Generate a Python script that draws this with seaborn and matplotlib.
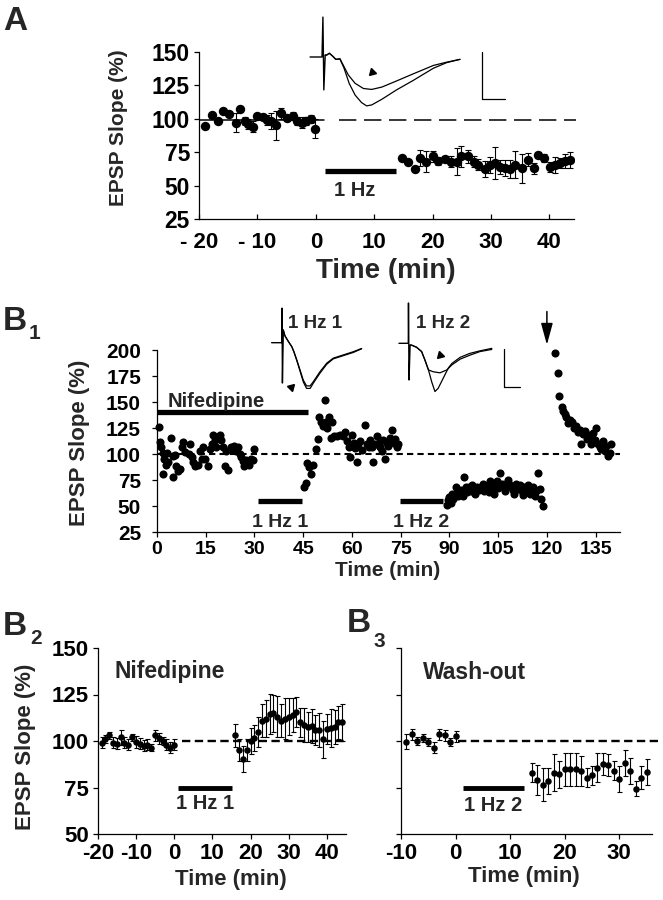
import numpy as np
import pandas as pd
import matplotlib
matplotlib.use('Agg')
import matplotlib.pyplot as plt
import seaborn as sns

# ---------------- DATA ----------------
# Panel A (EPSP slope %, mean +/- sem)
a_base_t = [-18.9, -17.8, -16.8, -15.9, -14.8, -13.7, -13.0, -12.1, -11.6, -10.8, -10.0, -9.1,
            -8.4, -7.7, -6.9, -5.9, -4.9, -3.9, -3.3, -2.4, -1.6, -0.8, -0.1]
a_base_v = [94.8, 103, 98.5, 105.5, 103.7, 97, 107.5, 98, 96, 94, 102, 101.5,
            99, 98, 95, 104, 100.5, 102, 98, 97, 98, 99.5, 92.5]
a_base_e = [0, 0, 0, 0, 0, 7, 0, 3, 4, 4, 2, 2, 4, 6, 11, 4, 2, 3, 3, 4, 3, 3, 7]
a_post_t = [14.8, 15.8, 17.0, 17.9, 18.9, 20.1, 21.0, 22.2, 23.2, 24.2, 24.9, 26.0, 27.0, 27.8,
            29.0, 29.8, 30.7, 31.5, 32.4, 33.3, 34.1, 35.3, 36.3, 37.3, 38.1, 39.0, 40.1, 41.0,
            41.8, 42.7, 43.5]
a_post_v = [71, 68, 62.5, 70.6, 68, 72, 68.6, 70, 68, 68, 72, 72, 68, 65.6,
            62.5, 65.6, 67, 64, 63, 62.5, 65.6, 63, 69.5, 63, 73, 70.5, 64, 65.6,
            67, 68.5, 69]
a_post_e = [0, 0, 0, 6, 8, 4, 3, 2, 4, 10, 8, 5, 4, 4,
            6, 6, 12, 5, 6, 7, 10, 11, 5, 4, 2, 3, 4, 6,
            4, 5, 6]
a_stim_t = [1.5, 13.7]
a_stim_level = 61
a_ref_level = 99
a_ref_solid_t = [-20, 1.4]
a_ref_dash_t = [4, 44.5]
a_xticks = [-20, -10, 0, 10, 20, 30, 40]
a_xticklabels = ['- 20', '- 10', '0', '10', '20', '30', '40']
a_yticks = [25, 50, 75, 100, 125, 150]

# Panel A inset traces (ms, mV)
a_stim_trace_t = [-2.6, 0.0, 0.2, 0.4, 0.7]
a_stim_trace_v = [0.0, 0.0, 0.85, -0.70, 0.04]
a_tr1_t = [0.7, 1.0, 1.6, 2.3, 3.0, 3.9, 4.6, 5.7, 7.2, 9.0, 10.8, 13.0, 16.2, 19.8, 24.2, 27.1, 30.0]
a_tr1_v = [0.04, 0.04, 0.08, 0.02, -0.05, -0.04, -0.17, -0.38, -0.56, -0.67, -0.69, -0.64, -0.51,
           -0.36, -0.18, -0.11, -0.05]
a_tr2_t = [0.7, 1.0, 1.6, 2.3, 3.0, 3.9, 4.8, 5.9, 7.2, 8.6, 9.7, 10.8, 13.0, 16.2, 19.8, 24.2, 27.1, 30.0]
a_tr2_v = [0.04, 0.04, 0.08, 0.02, -0.05, -0.04, -0.24, -0.56, -0.81, -0.97, -1.04, -1.02, -0.90,
           -0.70, -0.50, -0.24, -0.12, -0.05]
a_arrow_tv = [10.9, -0.32]
a_scale_t = [34.8, 34.8, 39.8]
a_scale_v = [0.11, -0.90, -0.90]

# Panel B1 (single experiment)
b1_t1 = [0.7, 0.9, 1.3, 1.8, 2.0, 2.2, 2.8, 3.0, 3.5, 4.4, 4.8, 5.0, 5.5, 6.0, 6.5, 7.0, 7.7, 8.0,
         8.7, 9.7, 10.2, 10.7, 11.2, 11.7, 12.7, 13.3, 13.8, 14.3, 14.8, 15.8, 16.3, 16.8, 17.3,
         17.8, 18.3, 19.3, 19.8, 20.3, 20.8, 21.3, 21.8, 22.8, 23.3, 23.8, 24.4, 24.9, 25.4, 25.9,
         26.4, 26.9, 27.4, 28.4, 28.9, 29.4, 29.9]
b1_v1 = [126, 112, 107, 101, 81, 95, 89, 101, 92, 115, 98, 78, 99, 88, 84, 86, 107, 112,
         102, 100, 110, 97, 92, 88, 89, 103, 95, 107, 95, 88, 105, 110, 118,
         113, 107, 118, 113, 107, 88, 103, 85, 107, 104, 108, 103, 107, 100, 97,
         93, 88, 94, 89, 95, 94, 105]
b1_t2 = [45.2, 45.9, 46.1, 46.9, 47.4, 47.9, 48.9, 49.4, 49.9, 50.4, 51.1, 51.6, 51.9, 52.4, 52.9,
         53.4, 53.9, 54.4, 55.4, 56.4, 57.4, 57.8, 58.5, 59.0, 59.4, 60.0, 60.5, 61.0, 61.5, 62.0,
         62.6, 63.1, 64.1, 64.6, 65.1, 65.6, 66.1, 66.6, 67.1, 67.6, 68.2, 68.7, 69.2, 69.7, 70.2,
         70.7, 71.2, 71.7, 72.2, 72.8, 73.3, 73.8, 74.3]
b1_v2 = [68.6, 72, 91, 87.5, 81, 89, 104.7, 114, 136, 131, 127, 152, 131, 125, 136,
         115.6, 131, 117, 117, 118.6, 117, 121, 112.5, 106.7, 97, 118.6, 110.9, 106, 92.3, 109.6,
         112.5, 104, 128, 109.6, 106.7, 113, 106.7, 92.3, 110, 117, 110.9, 106.7, 103, 113, 95,
         110.9, 108, 115, 123, 110.9, 114, 106.7, 110]
b1_t3 = [89.3, 89.6, 90.0, 90.4, 90.8, 91.2, 91.7, 92.0, 92.5, 93.0, 93.6, 94.1, 94.6, 95.0, 95.5,
         96.0, 96.5, 97.0, 97.5, 98.0, 98.5, 99.0, 99.7, 100.2, 100.6, 101.0, 101.6, 102.1, 102.6,
         103.1, 103.6, 104.0, 104.5, 105.0, 105.7, 106.2, 106.7, 107.2, 107.6, 108.0, 108.5, 109.0,
         109.5, 110.0, 110.6, 111.2, 111.7, 112.2, 112.6, 113.0, 113.6, 114.2, 114.8, 115.3, 115.8,
         116.3, 116.8, 117.3, 117.8, 118.3, 118.8]
b1_v3 = [51, 56, 59, 53, 62, 57, 62, 67.8, 60, 64, 65, 60, 78, 68, 63,
         67.8, 64, 70, 66, 62, 68, 65, 67.8, 71, 64, 66, 69, 63, 73.7,
         68, 62, 69, 74, 67, 81.7, 71, 67.8, 64, 72, 75, 70, 67.8,
         65, 62, 71, 66, 70.5, 64, 61, 67.8, 63, 70, 62, 66, 67.8,
         60, 64, 81.7, 66, 57, 50]
b1_t4 = [122.5, 123.5, 123.8, 124.5, 125.0, 125.5, 126.0, 126.5, 127.1, 127.6, 128.3, 129.0, 129.5,
         130.1, 130.6, 131.1, 131.6, 132.2, 132.7, 133.2, 133.7, 134.2, 134.7, 135.2, 135.7, 136.2,
         136.7, 137.3, 137.8, 138.3, 138.8, 139.3, 139.8]
b1_v4 = [197, 178, 156, 145, 141, 138, 136, 129.5, 133, 131, 125, 126.6, 121,
         123, 110, 119, 121.8, 114, 115.8, 118, 109.5, 120, 113, 125, 109.5, 107,
         104.7, 112.5, 103.2, 108, 98.4, 101, 109.5]
b1_nif_t = [0, 46.5]
b1_nif_level = 140.6
b1_hz1_t = [31, 44.6]
b1_hz2_t = [74.8, 88]
b1_hz_level = 54.5
b1_arrow_t = 120
b1_ref_t = [0, 142.5]
b1_xticks = [0, 15, 30, 45, 60, 75, 90, 105, 120, 135]
b1_yticks = [25, 50, 75, 100, 125, 150, 175, 200]

# Panel B1 inset traces (ms, mV)
b1i1_stim_t = [-2.8, 0.0, 0.1, 0.2, 0.45]
b1i1_stim_v = [0.0, 0.0, 0.96, -1.12, 0.35]
b1i1_tr1_t = [0.45, 0.9, 1.75, 2.8, 3.4, 4.2, 5.1, 6.0, 6.9, 7.9, 8.8, 10.6, 12.5, 14.3, 17.1, 19.9, 22.2]
b1i1_tr1_v = [0.35, 0.19, 0.05, -0.11, -0.25, -0.48, -0.76, -1.04, -1.20, -1.20, -1.08, -0.81,
              -0.57, -0.43, -0.34, -0.25, -0.16]
b1i1_tr2_t = [0.45, 0.9, 1.75, 2.8, 3.4, 4.2, 5.1, 6.0, 6.9, 7.9, 8.8, 10.6, 12.5, 14.3, 17.1, 19.9, 22.2]
b1i1_tr2_v = [0.35, 0.19, 0.05, -0.11, -0.26, -0.50, -0.79, -1.09, -1.27, -1.27, -1.12, -0.85,
              -0.60, -0.45, -0.36, -0.27, -0.17]
b1i1_arrow_tv = [2.6, -1.22]
b1i2_stim_t = [-2.6, 0.0, 0.05, 0.2, 0.5]
b1i2_stim_v = [0.0, 0.0, 1.12, -1.02, -0.05]
b1i2_tr1_t = [0.5, 0.9, 2.3, 3.7, 4.6, 5.6, 6.9, 8.8, 10.7, 12.1, 14.4, 17.1, 19.9, 23.2]
b1i2_tr1_v = [-0.05, -0.05, -0.11, -0.23, -0.46, -0.74, -0.79, -0.82, -0.74, -0.60, -0.44, -0.33,
              -0.23, -0.17]
b1i2_tr2_t = [0.5, 0.9, 2.3, 3.7, 4.6, 5.6, 6.5, 7.4, 8.3, 9.7, 11.1, 12.1, 14.4, 17.1, 19.9, 23.2]
b1i2_tr2_v = [-0.05, -0.05, -0.11, -0.23, -0.46, -0.74, -1.07, -1.34, -1.25, -0.97, -0.69, -0.56,
              -0.39, -0.28, -0.21, -0.14]
b1i2_arrow_tv = [8.8, -0.33]
b1i2_scale_t = [26.6, 26.6, 31.1]
b1i2_scale_v = [-0.17, -1.22, -1.22]

# Panel B2 (Nifedipine, mean +/- sem)
b2_base_t = [-19, -18, -17, -16, -15, -14, -13, -12, -11, -10, -9, -8, -7, -6, -5, -4, -3, -2, -1, 0]
b2_base_v = [99, 101, 103, 99, 98.5, 102, 99, 98, 102, 99.5, 98.5, 97.5, 98, 96.5, 103, 101.5,
             100, 98, 96.5, 98]
b2_base_e = [3, 2, 2, 3, 3, 4, 3, 3, 2, 3, 3, 3, 3, 2, 3, 3, 2, 3, 3, 3]
b2_post_t = [16, 17, 18, 19, 20, 21, 22, 23, 24, 25, 26, 27, 28, 29, 30, 31, 32, 33, 34, 35, 36, 37,
             38, 39, 40, 41, 42, 43, 44]
b2_post_v = [103, 95, 90.5, 95, 100, 101.5, 105, 111, 112, 114.5, 115, 113, 111, 112, 113, 114,
             115.5, 110, 108.5, 107.5, 108, 106, 106, 101, 106.5, 107, 107.5, 110, 110]
b2_post_e = [6, 6, 7, 6, 7, 7, 8, 9, 10, 11, 10, 11, 9, 11, 10, 9, 8, 8, 9, 8, 9, 8, 9, 10, 8, 10,
             9, 9, 10]
b2_stim_t = [1.1, 15.2]
b2_stim_level = 75
b2_ref_t = [2, 45.5]
b2_xticks = [-20, -10, 0, 10, 20, 30, 40]
b2_xticklabels = ['-20', '-10', '0', '10', '20', '30', '40']
b2_yticks = [50, 75, 100, 125, 150]

# Panel B3 (Wash-out, mean +/- sem)
b3_base_t = [-9, -8, -7, -6, -5, -4, -3, -2, -1, 0]
b3_base_v = [99.5, 103.5, 100, 101.5, 99.5, 96.5, 103.5, 103, 99.5, 102.5]
b3_base_e = [4, 3, 2, 2, 2, 3, 3, 3, 2, 3]
b3_post_t = [14, 15, 16, 17, 18, 19, 20, 21, 22, 23, 24, 25, 26, 27, 28, 29, 30, 31, 32, 33, 34, 35]
b3_post_v = [83, 79, 76.6, 78.4, 83, 82, 84.8, 84.8, 84.8, 84, 80.3, 81.5, 85.7, 87.5, 87, 84,
             79.7, 88, 84, 74.4, 80.3, 83.4]
b3_post_e = [5, 8, 9, 7, 10, 7, 9, 9, 9, 8, 5, 5, 8, 6, 6, 5, 7, 7, 7, 4, 6, 7]
b3_stim_t = [1.4, 12.5]
b3_stim_level = 74.5
b3_ref_t = [0.5, 37.5]
b3_xticks = [-10, 0, 10, 20, 30]
b3_xticklabels = ['-10', '0', '10', '20', '30']
b3_yticks = [50, 75, 100, 125, 150]

# ---------------- STYLE ----------------
sns.set_theme(style='white')
plt.rcParams['font.family'] = ['Liberation Sans', 'DejaVu Sans']
plt.rcParams['font.weight'] = 'bold'
plt.rcParams['axes.labelweight'] = 'bold'
plt.rcParams['lines.scale_dashes'] = False
plt.rcParams['axes.edgecolor'] = 'black'
plt.rcParams['xtick.color'] = 'black'
plt.rcParams['ytick.color'] = 'black'

W, H = 663, 900
fig = plt.figure(figsize=(W / 100, H / 100), dpi=100)
fig.patch.set_facecolor('white')


def fx(px):
    return px / W


def fy(py):
    return 1 - py / H


def add_ax(left, right, top, bottom):
    return fig.add_axes([left / W, 1 - bottom / H, (right - left) / W, (bottom - top) / H])


def style_main(ax, xdir, ydir, xsize, ysize, xpad, ypad, lw=0.9):
    for s in ['top', 'right']:
        ax.spines[s].set_visible(False)
    for s in ['left', 'bottom']:
        ax.spines[s].set_linewidth(lw)
        ax.spines[s].set_color('black')
    ax.tick_params(axis='x', direction=xdir, length=3.5, width=lw, labelsize=xsize, pad=xpad,
                   bottom=True)
    ax.tick_params(axis='y', direction=ydir, length=3.5, width=lw, labelsize=ysize, pad=ypad,
                   left=True)
    ax.set_facecolor('none')
    ax.grid(False)
    ax.set_xlabel('')
    ax.set_ylabel('')


def add_points(ax, t, v, e, s, capsize):
    if e is not None:
        ax.errorbar(t, v, yerr=e, fmt='none', ecolor='black', elinewidth=0.8, capsize=capsize,
                    capthick=0.8, zorder=2)
    sns.scatterplot(x=t, y=v, ax=ax, color='black', s=s, linewidth=0, zorder=3, legend=False)


# ---------------- PANEL A ----------------
axA = add_ax(199, 574, 52, 219)
add_points(axA, a_base_t, a_base_v, a_base_e, 46, 2.2)
add_points(axA, a_post_t, a_post_v, a_post_e, 46, 2.2)
axA.plot(a_ref_solid_t, [a_ref_level] * 2, color='black', lw=1.1, zorder=1)
axA.plot(a_ref_dash_t, [a_ref_level] * 2, color='black', lw=1.1, ls=(0, (12.5, 5.5)), zorder=1,
         clip_on=False)
axA.plot(a_stim_t, [a_stim_level] * 2, color='black', lw=3.8, solid_capstyle='butt')
axA.text(a_stim_t[0] + 1.6, 42, '1 Hz', fontsize=14.5, fontweight='bold', va='baseline', ha='left')
axA.set_xlim(-20, 44.2)
axA.set_ylim(25, 150)
axA.set_xticks(a_xticks)
axA.set_xticklabels(a_xticklabels)
axA.set_yticks(a_yticks)
style_main(axA, 'in', 'out', 16, 16.5, 9, 3)

# inset A traces
insA = fig.add_axes([299 / W, 1 - 118.1 / H, 216.2 / W, 108.1 / H])
insA.set_xlim(-5, 42)
insA.set_ylim(-1.3, 1.0)
insA.axis('off')
insA.plot(a_stim_trace_t, a_stim_trace_v, color='black', lw=1.0)
insA.plot(a_tr1_t, a_tr1_v, color='black', lw=0.9)
insA.plot(a_tr2_t, a_tr2_v, color='black', lw=0.9)
insA.plot(a_scale_t, a_scale_v, color='black', lw=0.9)
insA.plot([a_arrow_tv[0]], [a_arrow_tv[1]], marker=(3, 0, 135), ms=6, color='black')

fig.text(fx(3), fy(30), 'A', fontsize=24, fontweight='bold', va='baseline')
fig.text(fx(118), fy(128), 'EPSP Slope (%)', rotation=90, fontsize=15, fontweight='bold',
         ha='center', va='center')
fig.text(fx(386), fy(278), 'Time (min)', fontsize=20, fontweight='bold', ha='center', va='baseline')

# ---------------- PANEL B1 ----------------
axB1 = add_ax(157, 620, 350, 532)
axB1.plot(b1_ref_t, [100, 100], color='black', lw=1.5, ls=(0, (4.5, 3.0)), zorder=1)
for t, v in [(b1_t1, b1_v1), (b1_t2, b1_v2), (b1_t3, b1_v3), (b1_t4, b1_v4)]:
    sns.scatterplot(x=t, y=v, ax=axB1, color='black', s=34, linewidth=0, zorder=3, legend=False,
                    clip_on=False)
axB1.plot(b1_nif_t, [b1_nif_level] * 2, color='black', lw=3.8, solid_capstyle='butt', clip_on=False)
axB1.plot(b1_hz1_t, [b1_hz_level] * 2, color='black', lw=3.8, solid_capstyle='butt')
axB1.plot(b1_hz2_t, [b1_hz_level] * 2, color='black', lw=3.8, solid_capstyle='butt')
axB1.text(3.4, 145.5, 'Nifedipine', fontsize=14.5, fontweight='bold', va='baseline', ha='left')
axB1.text(np.mean(b1_hz1_t), 29.5, '1 Hz 1', fontsize=14, fontweight='bold', va='baseline',
          ha='center')
axB1.text(np.mean(b1_hz2_t), 29.5, '1 Hz 2', fontsize=14, fontweight='bold', va='baseline',
          ha='center')
axB1.annotate('', xy=(b1_arrow_t, 205), xytext=(b1_arrow_t, 237), annotation_clip=False,
              arrowprops=dict(arrowstyle='-|>,head_width=0.3,head_length=1.1', color='black',
                              lw=1.1, shrinkA=0, shrinkB=0))
axB1.set_xlim(0, 142.5)
axB1.set_ylim(25, 200)
axB1.set_xticks(b1_xticks)
axB1.set_yticks(b1_yticks)
style_main(axB1, 'out', 'out', 14, 15, 3, 8)

# B1 insets
insB1a = fig.add_axes([267.3 / W, 1 - 396.7 / H, 100.8 / W, 93.6 / H])
insB1a.set_xlim(-4, 24)
insB1a.set_ylim(-1.5, 1.1)
insB1a.axis('off')
insB1a.plot(b1i1_stim_t, b1i1_stim_v, color='black', lw=1.0)
insB1a.plot(b1i1_tr1_t, b1i1_tr1_v, color='black', lw=0.9)
insB1a.plot(b1i1_tr2_t, b1i1_tr2_v, color='black', lw=0.9)
insB1a.plot([b1i1_arrow_tv[0]], [b1i1_arrow_tv[1]], marker=(3, 0, -45), ms=6, color='black')
insB1a.text(1.7, 0.40, '1 Hz 1', fontsize=13.5, fontweight='bold', va='baseline', ha='left')

insB1b = fig.add_axes([393.9 / W, 1 - 397.3 / H, 129.6 / W, 97.2 / H])
insB1b.set_xlim(-4, 32)
insB1b.set_ylim(-1.5, 1.2)
insB1b.axis('off')
insB1b.plot(b1i2_stim_t, b1i2_stim_v, color='black', lw=1.0)
insB1b.plot(b1i2_tr1_t, b1i2_tr1_v, color='black', lw=0.9)
insB1b.plot(b1i2_tr2_t, b1i2_tr2_v, color='black', lw=0.9)
insB1b.plot(b1i2_scale_t, b1i2_scale_v, color='black', lw=0.9)
insB1b.plot([b1i2_arrow_tv[0]], [b1i2_arrow_tv[1]], marker=(3, 0, 135), ms=6, color='black')
insB1b.text(2.2, 0.42, '1 Hz 2', fontsize=13.5, fontweight='bold', va='baseline', ha='left')

fig.text(fx(3), fy(330), 'B', fontsize=24, fontweight='bold', va='baseline')
fig.text(fx(29), fy(339), '1', fontsize=15, fontweight='bold', va='baseline')
fig.text(fx(79), fy(443), 'EPSP Slope (%)', rotation=90, fontsize=16, fontweight='bold',
         ha='center', va='center')
fig.text(fx(388), fy(576), 'Time (min)', fontsize=15, fontweight='bold', ha='center',
         va='baseline')

# ---------------- PANEL B2 ----------------
axB2 = add_ax(97.7, 346, 648, 834)
axB2.plot(b2_ref_t, [100, 100], color='black', lw=1.7, ls=(0, (6.0, 3.2)), zorder=1, clip_on=False)
add_points(axB2, b2_base_t, b2_base_v, b2_base_e, 22, 1.8)
add_points(axB2, b2_post_t, b2_post_v, b2_post_e, 22, 1.8)
axB2.plot(b2_stim_t, [b2_stim_level] * 2, color='black', lw=3.5, solid_capstyle='butt')
axB2.text(np.mean(b2_stim_t), 63.7, '1 Hz 1', fontsize=14.5, fontweight='bold', va='baseline',
          ha='center')
axB2.text(-15.5, 134.1, 'Nifedipine', fontsize=16.5, fontweight='bold', va='baseline', ha='left')
axB2.set_xlim(-20, 45)
axB2.set_ylim(50, 150)
axB2.set_xticks(b2_xticks)
axB2.set_xticklabels(b2_xticklabels)
axB2.set_yticks(b2_yticks)
style_main(axB2, 'out', 'out', 16, 16, 3, 3)

fig.text(fx(3), fy(635), 'B', fontsize=24, fontweight='bold', va='baseline')
fig.text(fx(30), fy(644), '2', fontsize=15, fontweight='bold', va='baseline')
fig.text(fx(25.5), fy(747), 'EPSP Slope (%)', rotation=90, fontsize=16, fontweight='bold',
         ha='center', va='center')
fig.text(fx(231), fy(885), 'Time (min)', fontsize=16, fontweight='bold', ha='center',
         va='baseline')

# ---------------- PANEL B3 ----------------
axB3 = add_ax(401, 652, 648, 834)
axB3.plot(b3_ref_t, [100, 100], color='black', lw=1.7, ls=(0, (6.0, 3.2)), zorder=1, clip_on=False)
add_points(axB3, b3_base_t, b3_base_v, b3_base_e, 22, 1.8)
add_points(axB3, b3_post_t, b3_post_v, b3_post_e, 22, 1.8)
axB3.plot(b3_stim_t, [b3_stim_level] * 2, color='black', lw=3.5, solid_capstyle='butt')
axB3.text(np.mean(b3_stim_t), 62.4, '1 Hz 2', fontsize=14.5, fontweight='bold', va='baseline',
          ha='center')
axB3.text(-5.9, 133.2, 'Wash-out', fontsize=16.5, fontweight='bold', va='baseline', ha='left')
axB3.set_xlim(-10, 36)
axB3.set_ylim(50, 150)
axB3.set_xticks(b3_xticks)
axB3.set_xticklabels(b3_xticklabels)
axB3.set_yticks(b3_yticks)
axB3.set_yticklabels([])
style_main(axB3, 'out', 'out', 16, 16, 3, 3)

fig.text(fx(347), fy(632), 'B', fontsize=24, fontweight='bold', va='baseline')
fig.text(fx(373), fy(647), '3', fontsize=15, fontweight='bold', va='baseline')
fig.text(fx(524), fy(882), 'Time (min)', fontsize=16, fontweight='bold', ha='center',
         va='baseline')

fig.savefig('out.png', dpi=100, facecolor='white')
